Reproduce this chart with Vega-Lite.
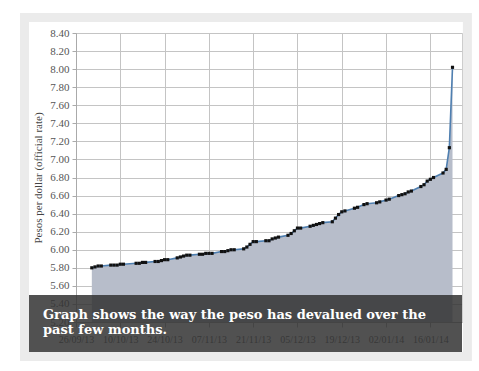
{
  "$schema": "https://vega.github.io/schema/vega-lite/v6.json",
  "width": 386,
  "height": 289,
  "autosize": {"type": "none"},
  "padding": {"left": 76, "top": 33, "right": 17, "bottom": 49},
  "background": "#ffffff",
  "config": {
    "view": {"stroke": "#c8c8c8"},
    "axis": {
      "labelFont": "Liberation Serif",
      "titleFont": "Liberation Serif",
      "labelColor": "#555555",
      "titleColor": "#444444",
      "gridColor": "#c4c4c4",
      "domainColor": "#aaaaaa",
      "tickColor": "#aaaaaa",
      "grid": true,
      "labelOverlap": false,
      "labelFlush": false
    },
    "axisX": {"labelExpr": "utcFormat(datum.value, '%d/%m/%y')", "labelFontSize": 10, "tickSize": 5, "labelPadding": 7},
    "axisY": {"labelExpr": "format(datum.value, '.2f')", "labelFontSize": 11, "tickSize": 4, "labelPadding": 3, "titleFontSize": 11, "titleFontWeight": "normal", "titlePadding": 6}
  },
  "layer": [
    {
      "data": {
        "values": [
          {"date": "2013-10-01", "rate": 5.80},
          {"date": "2013-10-02", "rate": 5.81},
          {"date": "2013-10-03", "rate": 5.82},
          {"date": "2013-10-04", "rate": 5.82},
          {"date": "2013-10-07", "rate": 5.83},
          {"date": "2013-10-08", "rate": 5.83},
          {"date": "2013-10-09", "rate": 5.83},
          {"date": "2013-10-10", "rate": 5.84},
          {"date": "2013-10-11", "rate": 5.84},
          {"date": "2013-10-15", "rate": 5.85},
          {"date": "2013-10-16", "rate": 5.85},
          {"date": "2013-10-17", "rate": 5.86},
          {"date": "2013-10-18", "rate": 5.86},
          {"date": "2013-10-21", "rate": 5.87},
          {"date": "2013-10-22", "rate": 5.87},
          {"date": "2013-10-23", "rate": 5.88},
          {"date": "2013-10-24", "rate": 5.89},
          {"date": "2013-10-25", "rate": 5.89},
          {"date": "2013-10-28", "rate": 5.91},
          {"date": "2013-10-29", "rate": 5.92},
          {"date": "2013-10-30", "rate": 5.93},
          {"date": "2013-10-31", "rate": 5.94},
          {"date": "2013-11-01", "rate": 5.94},
          {"date": "2013-11-04", "rate": 5.95},
          {"date": "2013-11-05", "rate": 5.95},
          {"date": "2013-11-06", "rate": 5.96},
          {"date": "2013-11-07", "rate": 5.96},
          {"date": "2013-11-08", "rate": 5.96},
          {"date": "2013-11-11", "rate": 5.98},
          {"date": "2013-11-12", "rate": 5.98},
          {"date": "2013-11-13", "rate": 5.99},
          {"date": "2013-11-14", "rate": 6.00},
          {"date": "2013-11-15", "rate": 6.00},
          {"date": "2013-11-18", "rate": 6.01},
          {"date": "2013-11-19", "rate": 6.03},
          {"date": "2013-11-20", "rate": 6.06},
          {"date": "2013-11-21", "rate": 6.09},
          {"date": "2013-11-22", "rate": 6.09},
          {"date": "2013-11-25", "rate": 6.10},
          {"date": "2013-11-26", "rate": 6.10},
          {"date": "2013-11-27", "rate": 6.12},
          {"date": "2013-11-28", "rate": 6.13},
          {"date": "2013-11-29", "rate": 6.14},
          {"date": "2013-12-02", "rate": 6.16},
          {"date": "2013-12-03", "rate": 6.18},
          {"date": "2013-12-04", "rate": 6.21},
          {"date": "2013-12-05", "rate": 6.24},
          {"date": "2013-12-06", "rate": 6.24},
          {"date": "2013-12-09", "rate": 6.26},
          {"date": "2013-12-10", "rate": 6.27},
          {"date": "2013-12-11", "rate": 6.28},
          {"date": "2013-12-12", "rate": 6.29},
          {"date": "2013-12-13", "rate": 6.30},
          {"date": "2013-12-16", "rate": 6.31},
          {"date": "2013-12-17", "rate": 6.35},
          {"date": "2013-12-18", "rate": 6.39},
          {"date": "2013-12-19", "rate": 6.42},
          {"date": "2013-12-20", "rate": 6.43},
          {"date": "2013-12-23", "rate": 6.46},
          {"date": "2013-12-24", "rate": 6.47},
          {"date": "2013-12-26", "rate": 6.50},
          {"date": "2013-12-27", "rate": 6.51},
          {"date": "2013-12-30", "rate": 6.52},
          {"date": "2013-12-31", "rate": 6.53},
          {"date": "2014-01-02", "rate": 6.55},
          {"date": "2014-01-03", "rate": 6.56},
          {"date": "2014-01-06", "rate": 6.60},
          {"date": "2014-01-07", "rate": 6.61},
          {"date": "2014-01-08", "rate": 6.62},
          {"date": "2014-01-09", "rate": 6.64},
          {"date": "2014-01-10", "rate": 6.65},
          {"date": "2014-01-13", "rate": 6.70},
          {"date": "2014-01-14", "rate": 6.72},
          {"date": "2014-01-15", "rate": 6.76},
          {"date": "2014-01-16", "rate": 6.78},
          {"date": "2014-01-17", "rate": 6.80},
          {"date": "2014-01-20", "rate": 6.85},
          {"date": "2014-01-21", "rate": 6.89},
          {"date": "2014-01-22", "rate": 7.13},
          {"date": "2014-01-23", "rate": 8.02}
        ]
      },
      "encoding": {
        "x": {
          "field": "date",
          "type": "temporal",
          "scale": {"type": "utc", "domain": [{"year": 2013, "month": 9, "date": 26, "utc": true}, {"year": 2014, "month": 1, "date": 26, "utc": true}]},
          "axis": {
            "title": null,
            "values": [
              {"year": 2013, "month": 9, "date": 26, "utc": true},
              {"year": 2013, "month": 10, "date": 10, "utc": true},
              {"year": 2013, "month": 10, "date": 24, "utc": true},
              {"year": 2013, "month": 11, "date": 7, "utc": true},
              {"year": 2013, "month": 11, "date": 21, "utc": true},
              {"year": 2013, "month": 12, "date": 5, "utc": true},
              {"year": 2013, "month": 12, "date": 19, "utc": true},
              {"year": 2014, "month": 1, "date": 2, "utc": true},
              {"year": 2014, "month": 1, "date": 16, "utc": true}
            ]
          }
        },
        "y": {
          "field": "rate",
          "type": "quantitative",
          "scale": {"domain": [5.2, 8.4], "zero": false, "nice": false},
          "axis": {
            "title": "Pesos per dollar (official rate)",
            "values": [5.2, 5.4, 5.6, 5.8, 6.0, 6.2, 6.4, 6.6, 6.8, 7.0, 7.2, 7.4, 7.6, 7.8, 8.0, 8.2, 8.4]
          }
        }
      },
      "layer": [
        {"mark": {"type": "area", "color": "#b7bdca", "opacity": 1, "clip": true}},
        {"mark": {"type": "line", "color": "#4f7fb0", "strokeWidth": 1.6}},
        {"mark": {"type": "point", "shape": "square", "filled": true, "color": "#111111", "size": 10, "opacity": 1}}
      ]
    },
    {
      "data": {"values": [{}]},
      "mark": {"type": "rect", "fill": "#333333", "opacity": 0.85},
      "encoding": {
        "x": {"datum": {"year": 2013, "month": 9, "date": 11, "hours": 3, "minutes": 36, "utc": true}, "type": "temporal",
          "axis": {
            "title": null,
            "values": [
              {"year": 2013, "month": 9, "date": 26, "utc": true},
              {"year": 2013, "month": 10, "date": 10, "utc": true},
              {"year": 2013, "month": 10, "date": 24, "utc": true},
              {"year": 2013, "month": 11, "date": 7, "utc": true},
              {"year": 2013, "month": 11, "date": 21, "utc": true},
              {"year": 2013, "month": 12, "date": 5, "utc": true},
              {"year": 2013, "month": 12, "date": 19, "utc": true},
              {"year": 2014, "month": 1, "date": 2, "utc": true},
              {"year": 2014, "month": 1, "date": 16, "utc": true}
            ]
          }},
        "x2": {"datum": {"year": 2014, "month": 1, "date": 26, "utc": true}},
        "y": {"datum": 5.5, "type": "quantitative",
          "axis": {
            "title": "Pesos per dollar (official rate)",
            "values": [5.2, 5.4, 5.6, 5.8, 6.0, 6.2, 6.4, 6.6, 6.8, 7.0, 7.2, 7.4, 7.6, 7.8, 8.0, 8.2, 8.4]
          }},
        "y2": {"datum": 4.867}
      }
    },
    {
      "data": {"values": [{}]},
      "mark": {"type": "rect", "fill": null, "stroke": "#ebebeb", "strokeWidth": 9},
      "encoding": {
        "x": {"datum": {"year": 2013, "month": 9, "date": 9, "hours": 17, "minutes": 18, "utc": true}, "type": "temporal",
          "axis": {
            "title": null,
            "values": [
              {"year": 2013, "month": 9, "date": 26, "utc": true},
              {"year": 2013, "month": 10, "date": 10, "utc": true},
              {"year": 2013, "month": 10, "date": 24, "utc": true},
              {"year": 2013, "month": 11, "date": 7, "utc": true},
              {"year": 2013, "month": 11, "date": 21, "utc": true},
              {"year": 2013, "month": 12, "date": 5, "utc": true},
              {"year": 2013, "month": 12, "date": 19, "utc": true},
              {"year": 2014, "month": 1, "date": 2, "utc": true},
              {"year": 2014, "month": 1, "date": 16, "utc": true}
            ]
          }},
        "x2": {"datum": {"year": 2014, "month": 1, "date": 27, "hours": 16, "minutes": 48, "utc": true}},
        "y": {"datum": 8.572, "type": "quantitative",
          "axis": {
            "title": "Pesos per dollar (official rate)",
            "values": [5.2, 5.4, 5.6, 5.8, 6.0, 6.2, 6.4, 6.6, 6.8, 7.0, 7.2, 7.4, 7.6, 7.8, 8.0, 8.2, 8.4]
          }},
        "y2": {"datum": 4.817}
      }
    },
    {
      "data": {"values": [{}]},
      "mark": {
        "type": "text",
        "text": ["Graph shows the way the peso has devalued over the", "past few months."],
        "font": "DejaVu Serif",
        "fontSize": 13,
        "fontWeight": "bold",
        "lineHeight": 15,
        "color": "#ffffff",
        "align": "left",
        "baseline": "alphabetic"
      },
      "encoding": {
        "x": {"datum": {"year": 2013, "month": 9, "date": 15, "hours": 13, "minutes": 40, "utc": true}, "type": "temporal",
          "axis": {
            "title": null,
            "values": [
              {"year": 2013, "month": 9, "date": 26, "utc": true},
              {"year": 2013, "month": 10, "date": 10, "utc": true},
              {"year": 2013, "month": 10, "date": 24, "utc": true},
              {"year": 2013, "month": 11, "date": 7, "utc": true},
              {"year": 2013, "month": 11, "date": 21, "utc": true},
              {"year": 2013, "month": 12, "date": 5, "utc": true},
              {"year": 2013, "month": 12, "date": 19, "utc": true},
              {"year": 2014, "month": 1, "date": 2, "utc": true},
              {"year": 2014, "month": 1, "date": 16, "utc": true}
            ]
          }},
        "y": {"datum": 5.233, "type": "quantitative",
          "axis": {
            "title": "Pesos per dollar (official rate)",
            "values": [5.2, 5.4, 5.6, 5.8, 6.0, 6.2, 6.4, 6.6, 6.8, 7.0, 7.2, 7.4, 7.6, 7.8, 8.0, 8.2, 8.4]
          }}
      }
    }
  ]
}
